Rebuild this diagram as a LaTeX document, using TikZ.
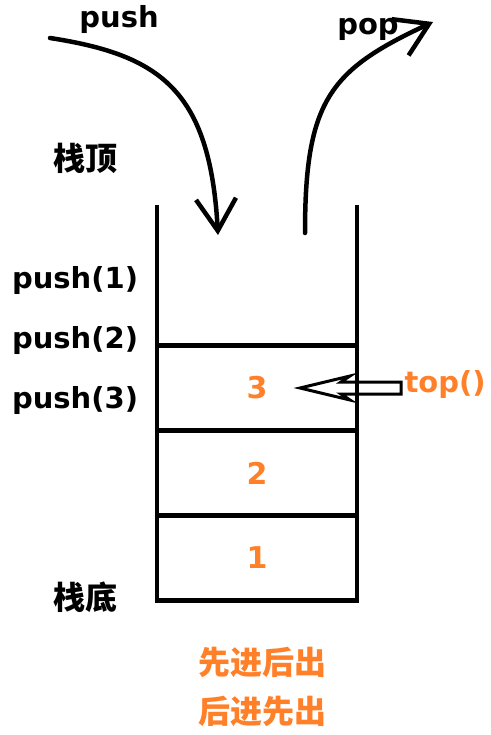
\documentclass[tikz,border=0pt]{standalone}
\usepackage{fontspec}
\setmainfont{DejaVu Sans}
\newfontfamily\cjk{Noto Sans CJK SC}
\usetikzlibrary{positioning}
\usetikzlibrary{arrows.meta}

\definecolor{stackorange}{RGB}{255,128,40}

\tikzset{
  lbl/.style={font=\bfseries\fontsize{29}{29}\selectfont},
  zh/.style={font=\cjk\bfseries\fontsize{32}{32}\selectfont},
  cell/.style={draw, line width=4.5pt, outer sep=0pt, minimum width=200pt,
    minimum height=85pt, text=stackorange, font=\bfseries\fontsize{30}{30}\selectfont},
  wall/.style={line width=4.5pt},
  flow/.style={line width=4.5pt, line cap=round,
    -{Straight Barb[length=32pt,width=40pt,line width=4.5pt]}}
}

\begin{document}
\begin{tikzpicture}[x=1pt,y=-1pt]
  \useasboundingbox (0,0) rectangle (490,735);

  % the stack, cells from the bottom up
  \node[cell] (c1) at (257,558) {1};
  \node[cell, above=0pt of c1] (c2) {2};
  \node[cell, above=0pt of c2] (c3) {3};
  \coordinate (lt) at (157,205);
  \coordinate (rt) at (357,205);
  \draw[wall] (lt) -- (c3.north west);
  \draw[wall] (rt) -- (c3.north east);

  % labels on the left
  \node[zh] (top) at (85,158) {栈顶};
  \node[zh] (bottom) at (85,597) {栈底};
  \node[lbl] (p1) at (75,280) {push(1)};
  \node[lbl, below=60pt of p1.center, anchor=center] (p2) {push(2)};
  \node[lbl, below=60pt of p2.center, anchor=center] (p3) {push(3)};

  % push and pop
  \node[lbl] (push) at (119,20) {push};
  \node[lbl] (pop) at (368,29) {pop};
  \coordinate (pushin) at (50,38);
  \coordinate (pushend) at (218,235);
  \coordinate (popstart) at (305,233);
  \coordinate (popend) at (433,22);
  \draw[flow] (pushin) .. controls (160,55) and (210,90) .. (pushend);
  \draw[flow] (popstart) .. controls (305,100) and (330,70) .. (popend);

  % top() points at the element on top
  \node[lbl, text=stackorange, anchor=west] (peek) at (401,385) {top()};
  \coordinate (tip) at (300,388);
  \draw[line width=3pt, line join=miter]
    (tip) -- (350,376) -- (341,382) -- (peek.west |- 0,382) -- (peek.west |- 0,394)
    -- (341,394) -- (350,400) -- cycle;

  % reading order
  \node[zh, text=stackorange] (fifo) at (262,662) {先进后出};
  \node[zh, text=stackorange, below=12pt of fifo] (lifo) {后进先出};
\end{tikzpicture}
\end{document}
